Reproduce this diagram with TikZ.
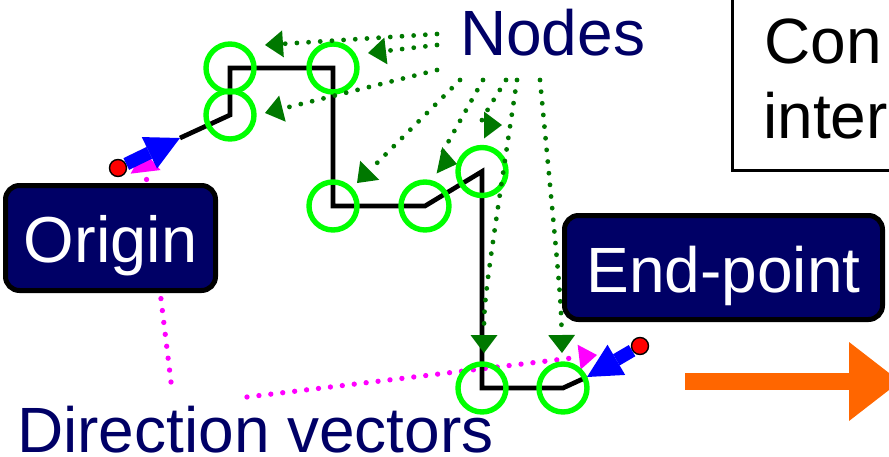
\documentclass[tikz,border=0pt]{standalone}
\usepackage{fontspec}
\setmainfont{Liberation Sans}
\usetikzlibrary{arrows.meta}
\definecolor{navy}{HTML}{000066}
\definecolor{lime}{HTML}{00FF00}
\definecolor{dgreen}{HTML}{007800}
\definecolor{magent}{HTML}{FF00FF}
\definecolor{orng}{HTML}{FF6600}
\definecolor{blu}{HTML}{0000FF}
\definecolor{redd}{HTML}{FF0000}
\tikzset{
  big/.style={font=\fontsize{64}{75}\selectfont, inner sep=0pt},
  ptcircle/.style={circle, draw=lime, line width=5.4pt, minimum size=48pt, inner sep=0pt},
  gdot/.style={dgreen, line width=4.8pt, line cap=round, dash pattern=on 0pt off 11.7pt,
    -{Triangle[length=18pt,width=27pt,line width=0pt]}},
  mdot/.style={magent, line width=5.3pt, line cap=round, dash pattern=on 0pt off 12pt},
  labelbox/.style={draw=black, fill=navy, text=white, line width=5pt, rounded corners=14pt,
    inner sep=0pt},
  dirarrow/.style={blu, line width=13pt, -{Triangle[length=34pt,width=35pt,line width=0pt]}},
  reddot/.style={circle, fill=redd, draw=black, line width=1.4pt, minimum size=17pt, inner sep=0pt},
}
\begin{document}
\begin{tikzpicture}[x=1pt,y=-1pt]
\useasboundingbox (0,0) rectangle (889,456);
\clip (0,0) rectangle (889,456);

% path corner coordinates
\coordinate (s) at (180,138);
\coordinate (c1) at (230,115);
\coordinate (c2) at (230,68);
\coordinate (c3) at (333,68);
\coordinate (c4) at (333,206);
\coordinate (c5) at (425,206);
\coordinate (c6) at (482,171.5);
\coordinate (c7) at (482,388);
\coordinate (c8) at (563,388);
\coordinate (e) at (587,377);

% text labels
\node[big, text=navy, anchor=base west] (nodes) at (460,55) {Nodes};
\node[big, text=navy, anchor=base west] (dirv) at (17,452.5) {Direction vectors};
\node[big, anchor=base west] (con1) at (764,63) {Con};
\node[big, anchor=base west] (con2) at (763,138) {inter};
\draw[line width=3pt] (732,-10) rectangle (960,170);

% magenta direction-vector pointers (underneath)
\coordinate (m1s) at (171,382);
\coordinate (m1e) at (143,150);
\coordinate (m2s) at (247,397);
\coordinate (m2e) at (597,355);
\draw[mdot, -{Triangle[length=22pt,width=30pt,line width=0pt]}] (m1s) -- (m1e);
\draw[mdot, -{Triangle[length=18pt,width=25pt,line width=0pt]}] (m2s) -- (m2e);

% black route
\draw[line width=4.7pt, line join=miter] (s) -- (c1) -- (c2) -- (c3) -- (c4) -- (c5) -- (c6) -- (c7) -- (c8) -- (e);

% green node circles
\node[ptcircle] (n1) at (c1) {};
\node[ptcircle] (n2) at (c2) {};
\node[ptcircle] (n3) at (c3) {};
\node[ptcircle] (n4) at (c4) {};
\node[ptcircle] (n5) at (c5) {};
\node[ptcircle] (n6) at (c6) {};
\node[ptcircle] (n7) at (c7) {};
\node[ptcircle] (n8) at (c8) {};

% green dotted pointers from "Nodes"
\coordinate (g1s) at (437,34);  \coordinate (g1e) at (265,45);
\coordinate (g2s) at (437,45);  \coordinate (g2e) at (368,53);
\coordinate (g3s) at (437,70);  \coordinate (g3e) at (265,113);
\coordinate (g4s) at (460,80);  \coordinate (g4e) at (357,183);
\coordinate (g5s) at (483,80);  \coordinate (g5e) at (457,164);
\coordinate (g6s) at (506,80);  \coordinate (g6e) at (502,125);
\coordinate (g7s) at (517,80);  \coordinate (g7e) at (484,353);
\coordinate (g8s) at (540,80);  \coordinate (g8e) at (562,353);
\draw[gdot] (g1s) -- (g1e);
\draw[gdot] (g2s) -- (g2e);
\draw[gdot] (g3s) -- (g3e);
\draw[gdot] (g4s) -- (g4e);
\draw[gdot] (g5s) .. controls (438,160) .. (g5e);
\draw[gdot] (g6s) .. controls (478,125) .. (g6e);
\draw[gdot] (g7s) .. controls (484,300) .. (g7e);
\draw[gdot] (g8s) .. controls (561,300) .. (g8e);

% Origin and End-point boxes
\node[labelbox, font=\fontsize{65}{75}\selectfont, minimum width=210pt, minimum height=105pt,
  text height=50pt, text depth=2pt] (origin) at (110.5,238) {Origin};
\node[labelbox, font=\fontsize{64}{75}\selectfont, minimum width=318pt, minimum height=104pt,
  text height=51pt, text depth=2pt] (endpt) at (723.5,267.5) {End-point};

% blue direction vectors with red end dots
\node[reddot] (o) at (118,168) {};
\node[reddot] (p) at (640,346) {};
\draw[dirarrow] (o) -- (s);
\draw[dirarrow] (p) -- (e);

% orange block arrow
\coordinate (oa) at (685,381.5);
\coordinate (ob) at (900,381.5);
\draw[orng, line width=17pt, -{Triangle[length=51pt,width=79pt,line width=0pt]}] (oa) -- (ob);
\end{tikzpicture}
\end{document}
